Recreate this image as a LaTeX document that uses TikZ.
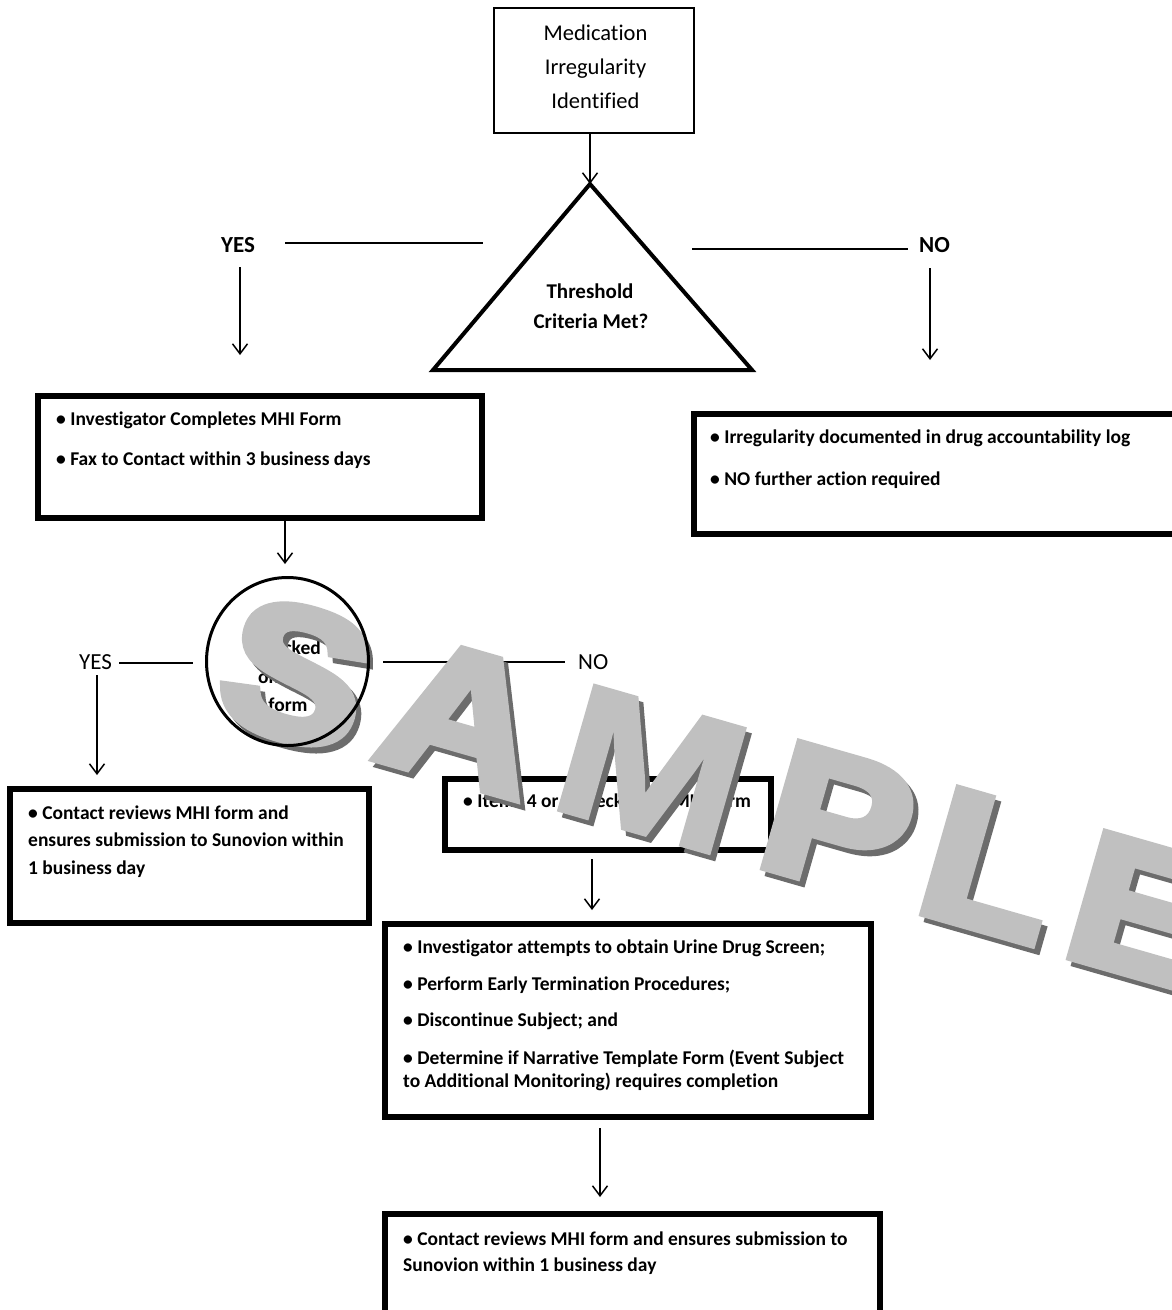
\documentclass[tikz,border=0pt]{standalone}
\usepackage{fontspec}
\setmainfont{Carlito}[Ligatures=NoCommon]
\newfontfamily\wmfont{Liberation Sans}[BoldFeatures={FakeBold=5}]
\newfontfamily\wmfontm{Liberation Sans}[BoldFeatures={FakeBold=2}]
\usetikzlibrary{arrows.meta,shapes.geometric}
\definecolor{wmface}{RGB}{192,192,192}
\definecolor{wmshadow}{RGB}{108,108,108}
\begin{document}
\begin{tikzpicture}[x=1pt,y=-1pt,
  conn/.style={line width=1.5pt},
  arr/.style={line width=1.5pt,-{Straight Barb[length=10pt,width=15pt]}},
  thinbox/.style={draw,line width=2pt,inner sep=0pt},
  thickbox/.style={draw,line width=6pt,inner sep=0pt},
  txt/.style={anchor=base west,inner sep=0pt,font=\fontsize{19.5}{23}\selectfont\bfseries},
  ctxt/.style={anchor=base,inner sep=0pt,font=\fontsize{19.5}{23}\selectfont\bfseries},
  lbl/.style={anchor=base west,inner sep=0pt,font=\fontsize{23}{28}\selectfont},
  lblb/.style={anchor=base west,inner sep=0pt,font=\fontsize{23}{28}\selectfont\bfseries},
  medtxt/.style={anchor=base,inner sep=0pt,font=\fontsize{22.5}{34}\selectfont},
  thrtxt/.style={anchor=base,inner sep=0pt,font=\fontsize{21}{25}\selectfont\bfseries},
  wm/.style={anchor=base west,inner sep=0pt,rotate=-16,xscale=1.15,font=\wmfont\bfseries\fontsize{186}{186}\selectfont},
  wmm/.style={anchor=base west,inner sep=0pt,rotate=-16,xscale=1.18,font=\wmfontm\bfseries\fontsize{188}{188}\selectfont}]

\useasboundingbox (0,0) rectangle (1172,1310);
\fill[white] (0,0) rectangle (1172,1310);
\clip (0,0) rectangle (1172,1310);

% --- top box
\node[thinbox,minimum width=200pt,minimum height=125pt] (top) at (594,70.5) {};
\node[medtxt] (m1) at (595.5,40) {Medication};
\node[medtxt] (m2) at (595.5,74) {Irregularity};
\node[medtxt] (m3) at (595.5,108) {Identified};

% --- triangle
\coordinate (apex) at (590,184);
\coordinate (trr) at (752,370);
\coordinate (trl) at (433,370);
\draw[line width=4pt,line join=miter] (apex) -- (trr) -- (trl) -- cycle;
\node[thrtxt] (t1) at (590,298) {Threshold};
\node[thrtxt] (t2) at (591,328) {Criteria Met?};
\draw[arr] (top.south -| apex) -- (apex);

% --- YES / NO (top)
\node[lblb] (yes1) at (221,252) {YES};
\coordinate (y1a) at (285,243);
\coordinate (y1b) at (483,243);
\draw[conn] (y1a) -- (y1b);
\coordinate (y1c) at (240,267);
\coordinate (y1d) at (240,355);
\draw[arr] (y1c) -- (y1d);

\node[lblb] (no1) at (919,252) {NO};
\coordinate (n1a) at (692,249);
\coordinate (n1b) at (908,249);
\draw[conn] (n1a) -- (n1b);
\coordinate (n1c) at (930,268);
\coordinate (n1d) at (930,360);
\draw[arr] (n1c) -- (n1d);

% --- left box
\node[thickbox,minimum width=444pt,minimum height=122pt] (lbox) at (260,457) {};
\node[txt] (l1) at (56,425) {• Investigator Completes MHI Form};
\node[txt] (l2) at (56,465) {• Fax to Contact within 3 business days};

% --- right box
\node[thickbox,minimum width=506.5pt,minimum height=120pt] (rbox) at (946.75,473.5) {};
\node[txt] (r1) at (710,443) {• Irregularity documented in drug accountability log};
\node[txt] (r2) at (710,485) {• NO further action required};

\coordinate (c1) at (285,564);
\draw[arr] (lbox.south -| c1) -- (c1);

% --- circle text (mostly hidden by watermark)
\node[ctxt] (ct1) at (288,626) {Items 1-3};
\node[ctxt] (ct2) at (288,654) {checked};
\node[ctxt] (ct3) at (288,683) {on MHI};
\node[ctxt] (ct4) at (288,711) {form};

% --- YES / NO (lower)
\node[lbl] (yes2) at (79,669) {YES};
\coordinate (y2a) at (119,663);
\coordinate (y2b) at (193,663);
\draw[conn] (y2a) -- (y2b);
\coordinate (y2c) at (97,675);
\coordinate (y2d) at (97,775);
\draw[arr] (y2c) -- (y2d);

\node[lbl] (no2) at (578,669) {NO};
\coordinate (n2a) at (383,662);
\coordinate (n2b) at (565,662);
\draw[conn] (n2a) -- (n2b);

% --- contact box
\node[thickbox,minimum width=359pt,minimum height=134pt] (cbox) at (189.5,856) {};
\node[txt] (cb1) at (28,819) {• Contact reviews MHI form and};
\node[txt] (cb2) at (28,846) {ensures submission to Sunovion within};
\node[txt] (cb3) at (28,874) {1 business day};

% --- items box
\node[thickbox,minimum width=326pt,minimum height=71pt] (ibox) at (607.5,814.5) {};
\node[txt] (ib1) at (463,807) {• Items 4 or 5 checked on MHI form};
\coordinate (c2a) at (592,859);
\coordinate (c2b) at (592,910);
\draw[arr] (c2a) -- (c2b);

% --- big box
\node[thickbox,minimum width=486pt,minimum height=193pt] (bbox) at (628,1020.5) {};
\node[txt] (bb1) at (403,953) {• Investigator attempts to obtain Urine Drug Screen;};
\node[txt] (bb2) at (403,990) {• Perform Early Termination Procedures;};
\node[txt] (bb3) at (403,1026) {• Discontinue Subject; and};
\node[txt] (bb4) at (403,1064) {• Determine if Narrative Template Form (Event Subject};
\node[txt] (bb5) at (403,1087) {to Additional Monitoring) requires completion};
\coordinate (c3a) at (600,1128);
\coordinate (c3b) at (600,1197);
\draw[arr] (c3a) -- (c3b);

% --- bottom box
\node[thickbox,minimum width=495.5pt,minimum height=125.5pt] (fbox) at (632.25,1277) {};
\node[txt] (fb1) at (403,1245) {• Contact reviews MHI form and ensures submission to};
\node[txt] (fb2) at (403,1271) {Sunovion within 1 business day};

% --- watermark
\node[wm,text=wmshadow] (wSs) at (215,722) {S};
\node[wm,text=wmface] (wS) at (210,716) {S};
\node[wm,text=wmshadow] (wAs) at (376,763) {A};
\node[wm,text=wmface] (wA) at (371,757) {A};
\node[wmm,text=wmshadow] (wMs) at (550,812) {M};
\node[wmm,text=wmface] (wM) at (545,806) {M};
\node[wm,text=wmshadow] (wPs) at (757,869) {P};
\node[wm,text=wmface] (wP) at (752,863) {P};
\node[wm,text=wmshadow] (wLs) at (916,915) {L};
\node[wm,text=wmface] (wL) at (911,909) {L};
\node[wm,text=wmshadow] (wEs) at (1063,959) {E};
\node[wm,text=wmface] (wE) at (1058,953) {E};

% --- circle outline (above watermark)
\node[draw,ellipse,line width=3pt,minimum width=162pt,minimum height=168pt,inner sep=0pt] (circ) at (287.5,661.5) {};
\end{tikzpicture}
\end{document}
